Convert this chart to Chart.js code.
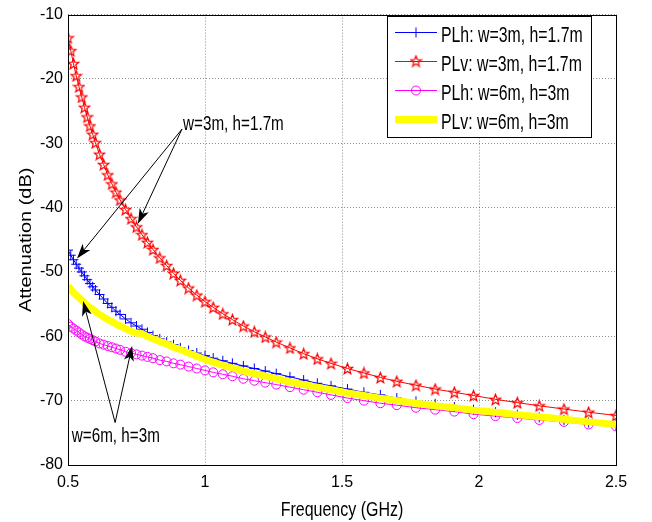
<!DOCTYPE html>
<html>
<head>
<meta charset="utf-8">
<script src="https://cdn.jsdelivr.net/npm/chart.js@4.4.1/dist/chart.umd.min.js"></script>
<style>
  html, body { margin: 0; padding: 0; background: #fff; }
  #wrap { width: 652px; height: 522px; position: relative; }
</style>
</head>
<body>
<div id="wrap"><canvas id="chart"></canvas></div>
<script>
/* ===== Data ===== */

const freq = [
  0.50, 0.51, 0.52, 0.53, 0.54, 0.55, 0.56, 0.57, 0.58, 0.59,
  0.60, 0.615, 0.63, 0.645, 0.66, 0.675, 0.69, 0.71, 0.73, 0.75,
  0.77, 0.79, 0.81, 0.835, 0.86, 0.885, 0.91, 0.94, 0.97, 1.00,
  1.03, 1.065, 1.10, 1.14, 1.18, 1.22, 1.26, 1.31, 1.36, 1.41,
  1.46, 1.52, 1.58, 1.64, 1.70, 1.77, 1.84, 1.91, 1.98, 2.06,
  2.14, 2.22, 2.31, 2.40, 2.50
];

// PLh: w=3m, h=1.7m
const plhW3 = [
  -46.6, -47.4, -48.1, -48.8, -49.4, -50.0, -50.6, -51.2, -51.8, -52.3,
  -52.8, -53.5, -54.2, -54.9, -55.5, -56.1, -56.6, -57.3, -57.9, -58.4,
  -58.9, -59.4, -59.9, -60.4, -60.9, -61.3, -61.8, -62.2, -62.6, -63.0,
  -63.4, -63.8, -64.2, -64.6, -65.0, -65.4, -65.8, -66.3, -66.8, -67.3,
  -67.7, -68.2, -68.7, -69.1, -69.6, -70.1, -70.5, -71.0, -71.4, -71.8,
  -72.2, -72.6, -73.0, -73.4, -73.8
];

// PLv: w=3m, h=1.7m
const plvW3 = [
  -13.6, -15.6, -17.6, -19.5, -21.2, -22.8, -24.4, -25.9, -27.3, -28.6,
  -29.9, -31.7, -33.3, -34.9, -36.3, -37.6, -38.8, -40.3, -41.7, -43.0,
  -44.2, -45.4, -46.5, -47.8, -49.0, -50.2, -51.3, -52.5, -53.6, -54.6,
  -55.5, -56.5, -57.4, -58.4, -59.3, -60.1, -60.9, -61.8, -62.7, -63.5,
  -64.2, -65.0, -65.7, -66.4, -67.0, -67.6, -68.2, -68.7, -69.2, -69.8,
  -70.3, -70.8, -71.3, -71.8, -72.3
];

// PLh: w=6m, h=3m
const plhW6 = [
  -58.1, -58.5, -58.8, -59.1, -59.4, -59.7, -60.0, -60.2, -60.4, -60.6,
  -60.8, -61.1, -61.3, -61.5, -61.7, -61.9, -62.1, -62.4, -62.6, -62.8,
  -63.0, -63.2, -63.4, -63.7, -63.9, -64.2, -64.4, -64.7, -65.0, -65.3,
  -65.6, -65.9, -66.2, -66.6, -66.9, -67.2, -67.5, -67.9, -68.3, -68.7,
  -69.1, -69.6, -70.0, -70.4, -70.7, -71.1, -71.4, -71.7, -72.1, -72.4,
  -72.7, -73.0, -73.3, -73.7, -74.0
];

// PLv: w=6m, h=3m
const plvW6 = [
  -52.2, -52.7, -53.2, -53.6, -54.0, -54.4, -54.8, -55.2, -55.5, -55.8,
  -56.1, -56.6, -57.0, -57.4, -57.7, -58.1, -58.4, -58.8, -59.2, -59.5,
  -59.6, -60.0, -60.4, -60.8, -61.2, -61.7, -62.1, -62.6, -63.1, -63.6,
  -64.0, -64.5, -64.9, -65.4, -65.8, -66.2, -66.6, -67.1, -67.5, -67.9,
  -68.3, -68.8, -69.2, -69.6, -70.0, -70.4, -70.8, -71.1, -71.5, -71.8,
  -72.2, -72.5, -72.9, -73.3, -73.7
];

const seriesLabels = [
  'PLh: w=3m, h=1.7m',
  'PLv: w=3m, h=1.7m',
  'PLh: w=6m, h=3m',
  'PLv: w=6m, h=3m',
];

const xTicks = [0.5, 1, 1.5, 2, 2.5];
const yTicks = [-10, -20, -30, -40, -50, -60, -70, -80];
const xTitle = 'Frequency (GHz)';
const yTitle = 'Attenuation (dB)';

// Annotation texts with arrows (data coordinates, text anchor = left baseline)
const notes = [
  { text: 'w=3m, h=1.7m', at: [0.92, -27.9], from: [0.916, -27.8],
    tips: [[0.533, -47.9], [0.755, -42.5]] },
  { text: 'w=6m, h=3m', at: [0.514, -76.4], from: [0.672, -73.4],
    tips: [[0.555, -54.5], [0.734, -61.5]] },
];

/* ===== Styles ===== */

const FONT = "'Liberation Sans', Arial, sans-serif";
const BLUE = '#0000ff', RED = '#ff0000', MAGENTA = '#ff00ff', YELLOW = '#ffff00';

// Hollow pentagram, like MATLAB's 'p' marker
function starImage(color) {
  const c = document.createElement('canvas');
  c.width = 13; c.height = 13;
  const g = c.getContext('2d');
  g.strokeStyle = color;
  g.lineWidth = 1.2;
  g.beginPath();
  for (let i = 0; i < 10; i++) {
    const r = i % 2 ? 2.4 : 5.6;
    const a = -Math.PI / 2 + i * Math.PI / 5;
    const px = 6.5 + r * Math.cos(a), py = 7 + r * Math.sin(a);
    if (i) g.lineTo(px, py); else g.moveTo(px, py);
  }
  g.closePath();
  g.stroke();
  return c;
}
const STAR = starImage(RED);

const toXY = vals => vals.map((v, i) => ({ x: freq[i], y: v }));

// Text squeezed horizontally (the figure's labels are tall and narrow)
function narrowText(ctx, text, x, y, size, squeeze, rotate) {
  ctx.save();
  ctx.translate(x, y);
  if (rotate) ctx.rotate(-Math.PI / 2);
  ctx.scale(rotate ? 1 : squeeze, rotate ? squeeze : 1);
  ctx.font = size + 'px ' + FONT;
  ctx.fillText(text, 0, 0);
  ctx.restore();
}

/* ===== Plugins: frame, titles, legend, annotations ===== */

function drawArrow(ctx, x0, y0, x1, y1) {
  const a = Math.atan2(y1 - y0, x1 - x0);
  const ux = Math.cos(a), uy = Math.sin(a);
  const len = 15, half = 5, notch = 4;
  ctx.beginPath();
  ctx.moveTo(x0, y0);
  ctx.lineTo(x1 - ux * (len - notch), y1 - uy * (len - notch));
  ctx.stroke();
  ctx.beginPath();
  ctx.moveTo(x1, y1);
  ctx.lineTo(x1 - ux * len - uy * half, y1 - uy * len + ux * half);
  ctx.lineTo(x1 - ux * (len - notch), y1 - uy * (len - notch));
  ctx.lineTo(x1 - ux * len + uy * half, y1 - uy * len - ux * half);
  ctx.closePath();
  ctx.fill();
}

const framePlugin = {
  id: 'frame',
  afterDatasetsDraw(chart) {
    const { ctx, chartArea: a, scales } = chart;
    ctx.save();

    // plot box
    ctx.strokeStyle = '#000';
    ctx.lineWidth = 1;
    ctx.strokeRect(Math.round(a.left) + 0.5, Math.round(a.top) + 0.5,
      Math.round(a.right - a.left), Math.round(a.bottom - a.top));

    // axis titles
    ctx.fillStyle = '#000';
    ctx.textBaseline = 'alphabetic';
    ctx.textAlign = 'center';
    narrowText(ctx, xTitle, (a.left + a.right) / 2, 516, 20, 0.8, false);
    narrowText(ctx, yTitle, 31, (a.top + a.bottom) / 2, 20, 0.78, true);
    ctx.textAlign = 'left';

    // annotations
    ctx.lineWidth = 1;
    notes.forEach(n => {
      const px = v => scales.x.getPixelForValue(v);
      const py = v => scales.y.getPixelForValue(v);
      narrowText(ctx, n.text, px(n.at[0]), py(n.at[1]), 21, 0.725, false);
      n.tips.forEach(t => drawArrow(ctx, px(n.from[0]), py(n.from[1]), px(t[0]), py(t[1])));
    });

    // legend box
    const lx = 387, ly = 16, lw = 204, lh = 121;
    ctx.fillStyle = '#fff';
    ctx.fillRect(lx, ly, lw, lh);
    ctx.strokeStyle = '#000';
    ctx.strokeRect(lx + 0.5, ly + 0.5, lw, lh);
    const rows = [32.5, 61.5, 90.5, 119.5];
    chart.data.datasets.forEach(ds => {
      const y = rows[ds.legendRow];
      ctx.strokeStyle = ds.borderColor;
      ctx.lineWidth = ds.borderWidth;
      ctx.beginPath();
      ctx.moveTo(395, y);
      ctx.lineTo(437, y);
      ctx.stroke();
      ctx.lineWidth = 1;
      if (ds.pointStyle === 'cross') {
        ctx.beginPath();
        ctx.moveTo(416, y - 5); ctx.lineTo(416, y + 5);
        ctx.moveTo(411, y); ctx.lineTo(421, y);
        ctx.stroke();
      } else if (ds.pointStyle === 'circle' && ds.pointRadius > 0) {
        ctx.beginPath();
        ctx.arc(416, y, 4.5, 0, Math.PI * 2);
        ctx.stroke();
      } else if (ds.pointStyle === STAR) {
        ctx.drawImage(STAR, 416 - 6.5, y - 7);
      }
      ctx.fillStyle = '#000';
      narrowText(ctx, ds.label, 441, y + 9.5, 22, 0.72, false);
    });
    ctx.restore();
  }
};

/* ===== Chart ===== */

const ctx = document.getElementById('chart').getContext('2d');

new Chart(ctx, {
  type: 'line',
  data: {
    datasets: [
      {
        label: seriesLabels[3],
        legendRow: 3,
        data: toXY(plvW6),
        borderColor: YELLOW,
        borderWidth: 7,
        pointRadius: 0,
        pointStyle: 'circle',
        order: 0,
      },
      {
        label: seriesLabels[0],
        legendRow: 0,
        data: toXY(plhW3),
        borderColor: BLUE,
        borderWidth: 1,
        pointStyle: 'cross',
        pointRadius: 5,
        pointBorderColor: BLUE,
        pointBorderWidth: 1,
        order: 1,
      },
      {
        label: seriesLabels[1],
        legendRow: 1,
        data: toXY(plvW3),
        borderColor: RED,
        borderWidth: 1,
        pointStyle: STAR,
        pointRadius: 5,
        order: 2,
      },
      {
        label: seriesLabels[2],
        legendRow: 2,
        data: toXY(plhW6),
        borderColor: MAGENTA,
        borderWidth: 1,
        pointStyle: 'circle',
        pointRadius: 4.5,
        pointBorderColor: MAGENTA,
        pointBackgroundColor: 'rgba(0,0,0,0)',
        pointBorderWidth: 1,
        order: 3,
      },
    ]
  },
  options: {
    responsive: true,
    maintainAspectRatio: false,
    animation: false,
    layout: { padding: { left: 0, top: 12, right: 36, bottom: 0 } },
    plugins: {
      legend: { display: false },
      tooltip: { enabled: false },
    },
    elements: { line: { tension: 0 } },
    scales: {
      x: {
        type: 'linear',
        min: 0.5,
        max: 2.5,
        afterBuildTicks: s => { s.ticks = xTicks.map(v => ({ value: v })); },
        afterFit: s => { s.height = 57; },
        grid: { color: 'rgba(0,0,0,0.45)', drawTicks: false },
        border: { display: false, dash: [1, 2] },
        ticks: {
          color: '#000',
          padding: 8,
          font: { family: FONT, size: 16 },
          callback: v => String(v),
          maxRotation: 0,
        },
        title: { display: false },
      },
      y: {
        min: -80,
        max: -10,
        afterBuildTicks: s => { s.ticks = yTicks.map(v => ({ value: v })); },
        afterFit: s => { s.width = 68; },
        grid: { color: 'rgba(0,0,0,0.45)', drawTicks: false },
        border: { display: false, dash: [1, 2] },
        ticks: {
          color: '#000',
          padding: 5,
          font: { family: FONT, size: 16 },
        },
        title: { display: false },
      }
    }
  },
  plugins: [framePlugin]
});
</script>
</body>
</html>
